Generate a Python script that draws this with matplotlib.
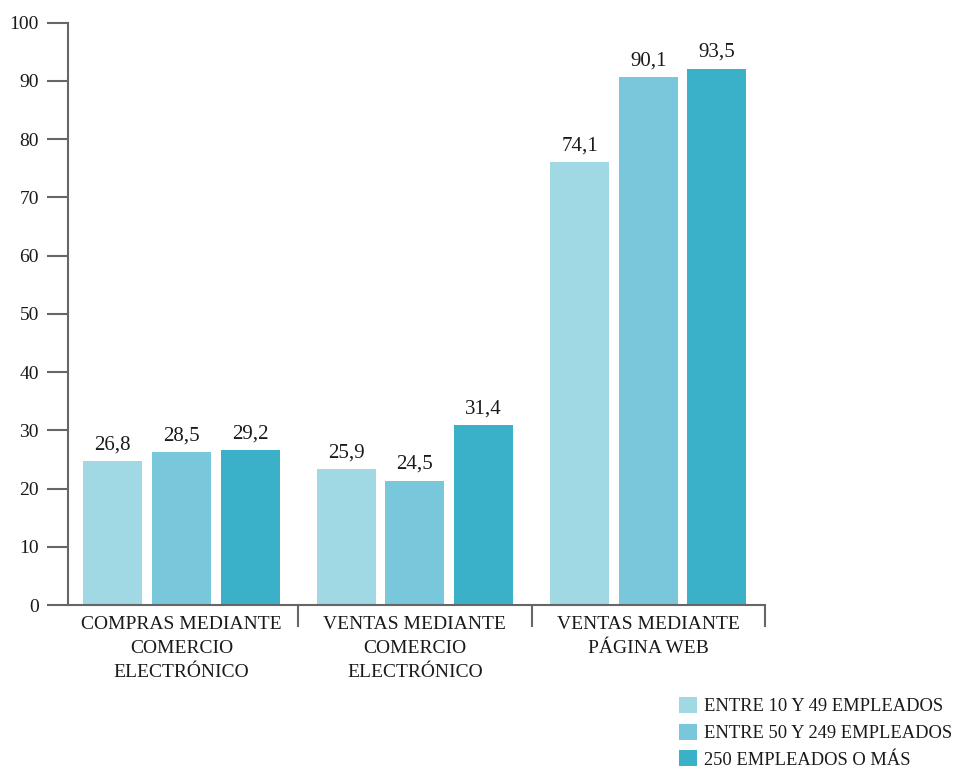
import matplotlib
matplotlib.use("Agg")
import matplotlib.pyplot as plt
import numpy as np

categories = ["COMPRAS MEDIANTE\nCOMERCIO\nELECTRÓNICO",
              "VENTAS MEDIANTE\nCOMERCIO\nELECTRÓNICO",
              "VENTAS MEDIANTE\nPÁGINA WEB"]
series = ["ENTRE 10 Y 49 EMPLEADOS",
          "ENTRE 50 Y 249 EMPLEADOS",
          "250 EMPLEADOS O MÁS"]
# values printed on the bars
values_small = [26.8, 25.9, 74.1]
values_medium = [28.5, 24.5, 90.1]
values_large = [29.2, 31.4, 93.5]
# bar heights as drawn in the picture (they differ from the printed values)
heights_small = [24.7, 23.3, 76.0]
heights_medium = [26.2, 21.3, 90.6]
heights_large = [26.6, 30.9, 92.1]
yticks = [0, 10, 20, 30, 40, 50, 60, 70, 80, 90, 100]

colors = ["#A0D8E3", "#78C7DA", "#3AB0C9"]
axis_color = "#666666"
font = "Liberation Serif"

fig = plt.figure(figsize=(9.65, 7.69), dpi=100)
ax = fig.add_axes([68/965, 164/769, 697/965, 582.3/769])

x = np.arange(len(categories))
width = 0.253
offset = 0.294
all_heights = [heights_small, heights_medium, heights_large]
all_values = [values_small, values_medium, values_large]
for i, (h, v) in enumerate(zip(all_heights, all_values)):
    pos = x + (i - 1) * offset
    bars = ax.bar(pos, h, width, color=colors[i], label=series[i], zorder=2)
    for b, val in zip(bars, v):
        ax.annotate(f"{val:.1f}".replace(".", ","),
                    (b.get_x() + b.get_width() / 2, b.get_height()),
                    xytext=(0, 5), textcoords="offset points",
                    ha="center", va="bottom", fontsize=15,
                    family=font, color="#1a1a1a")

ax.set_xlim(-0.486, 2.5)
ax.set_ylim(0, 100)
ax.set_yticks(yticks)
ax.set_yticklabels([str(t) for t in yticks], fontsize=14, family=font, color="#1a1a1a")
ax.tick_params(axis="y", length=15, width=1.5, color=axis_color, pad=6)

ax.set_xticks(x)
ax.set_xticklabels(categories, fontsize=14, family=font, color="#1a1a1a",
                   linespacing=1.55)
ax.tick_params(axis="x", which="major", length=0, pad=8)
ax.set_xticks([0.5, 1.5, 2.5], minor=True)
ax.tick_params(axis="x", which="minor", length=16, width=1.5, color=axis_color)

for s in ["top", "right"]:
    ax.spines[s].set_visible(False)
for s in ["left", "bottom"]:
    ax.spines[s].set_color(axis_color)
    ax.spines[s].set_linewidth(1.5)

leg = fig.legend(loc="upper left", bbox_to_anchor=(679/965, 1 - 697/769),
                 frameon=False, prop={"family": font, "size": 13.3},
                 handlelength=0.95, handleheight=0.95, handletextpad=0.4,
                 labelspacing=0.45, borderpad=0, borderaxespad=0)
for t in leg.get_texts():
    t.set_color("#1a1a1a")

fig.savefig("out.png", dpi=100)
